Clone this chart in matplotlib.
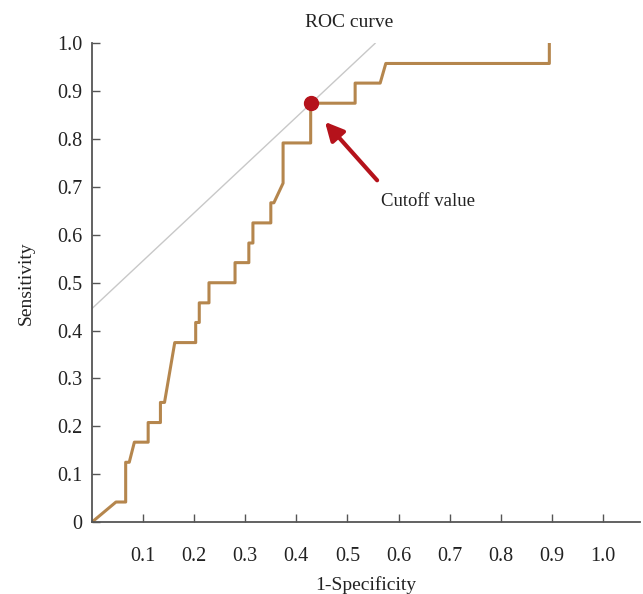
import matplotlib.pyplot as plt
import numpy as np

plt.rcParams['font.family'] = ['Liberation Serif', 'DejaVu Serif']

# ROC curve vertices (1-specificity, sensitivity)
fpr = [0, 0.047, 0.066, 0.066, 0.073, 0.083, 0.110, 0.110, 0.134, 0.134,
       0.142, 0.162, 0.203, 0.203, 0.210, 0.210, 0.229, 0.229, 0.280, 0.280,
       0.307, 0.307, 0.315, 0.315, 0.350, 0.350, 0.356, 0.374, 0.374, 0.428,
       0.428, 0.515, 0.515, 0.564, 0.575, 0.895, 0.895]
tpr = [0, 0.042, 0.042, 0.125, 0.125, 0.167, 0.167, 0.208, 0.208, 0.250,
       0.250, 0.375, 0.375, 0.417, 0.417, 0.458, 0.458, 0.500, 0.500, 0.542,
       0.542, 0.583, 0.583, 0.625, 0.625, 0.667, 0.667, 0.708, 0.792, 0.792,
       0.875, 0.875, 0.917, 0.917, 0.958, 0.958, 1.0]

cutoff = (0.428, 0.875)
tangent_x = [0, 0.554]
tangent_y = [0.446, 1.0]

xticks = [0.1, 0.2, 0.3, 0.4, 0.5, 0.6, 0.7, 0.8, 0.9, 1.0]
yticks = [0, 0.1, 0.2, 0.3, 0.4, 0.5, 0.6, 0.7, 0.8, 0.9, 1.0]
ytick_labels = ['0', '0.1', '0.2', '0.3', '0.4', '0.5', '0.6', '0.7', '0.8', '0.9', '1.0']

fig = plt.figure(figsize=(6.43, 5.94), dpi=100)
ax = fig.add_axes([0.143, 0.121, 0.852, 0.806])

ax.plot(tangent_x, tangent_y, color='#c8c8c8', lw=1.0, zorder=1)
ax.plot(fpr, tpr, color='#b5864d', lw=2.2, zorder=2)
ax.plot(*cutoff, 'o', color='#b5121b', ms=10, zorder=3)

ax.annotate('', xy=(0.456, 0.836), xytext=(0.558, 0.714),
            arrowprops=dict(arrowstyle='-|>,head_length=1.1,head_width=0.55',
                            color='#b5121b', lw=3, shrinkA=0, shrinkB=0))
ax.text(0.566, 0.67, 'Cutoff value', fontsize=13.5, color='#222222',
        va='center', ha='left')

ax.set_xlim(0, 1.072)
ax.set_ylim(0, 1.0)
ax.set_xticks(xticks)
ax.set_xticklabels([f'{t:.1f}' for t in xticks])
ax.set_yticks(yticks)
ax.set_yticklabels(ytick_labels)

for s in ['top', 'right']:
    ax.spines[s].set_visible(False)
for s in ['left', 'bottom']:
    ax.spines[s].set_color('#555555')
    ax.spines[s].set_linewidth(1.3)

ax.tick_params(direction='in', length=6, width=1, color='#555555',
               labelsize=14.5, labelcolor='#222222')
ax.tick_params(axis='x', pad=18)
ax.tick_params(axis='y', pad=7)

ax.set_xlabel('1-Specificity', fontsize=14, color='#222222', labelpad=7)
ax.set_ylabel('Sensitivity', fontsize=14, color='#222222', labelpad=16)
ax.set_title('ROC curve', fontsize=14, color='#222222', pad=12, x=0.47)

fig.savefig('out.png', dpi=100)
